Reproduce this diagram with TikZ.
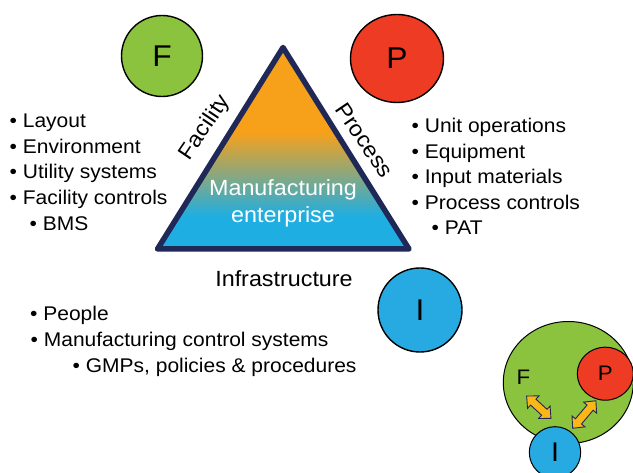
\documentclass[tikz,border=0pt]{standalone}
\usepackage{fontspec}
\setmainfont[FakeStretch=1.06]{Liberation Sans}
\usetikzlibrary{shapes.geometric}
\definecolor{fgreen}{RGB}{139,195,63}
\definecolor{pred}{RGB}{238,59,36}
\definecolor{iblue}{RGB}{39,170,225}
\definecolor{torange}{RGB}{247,161,27}
\definecolor{tblue}{RGB}{30,174,226}
\definecolor{tnavy}{RGB}{32,40,88}
\definecolor{ayellow}{RGB}{251,183,21}
\pgfdeclareverticalshading{trishade}{100bp}{color(0bp)=(tblue); color(33bp)=(tblue); color(54bp)=(torange); color(100bp)=(torange)}
\tikzset{
  lst/.style={anchor=base west, inner sep=0pt, font=\fontsize{19.8}{24}\selectfont},
  big/.style={inner sep=0pt, font=\fontsize{22}{26}\selectfont},
  letter/.style={inner sep=0pt, font=\fontsize{30}{34}\selectfont},
  smallletter/.style={inner sep=0pt, font=\fontsize{21}{24}\selectfont},
  circ/.style={draw=black, line width=1.4pt, inner sep=0pt},
  dblarrowshape/.style={draw=tnavy, line width=0.9pt, fill=ayellow, line join=miter},
}
\begin{document}
\begin{tikzpicture}[x=1pt,y=-1pt]
\useasboundingbox (0,0) rectangle (633,473);
% triangle
\coordinate (ta) at (283,47.5);
\coordinate (tl) at (157.5,249);
\coordinate (tr) at (409,249);
\shade[shading=trishade] (ta) -- (tl) -- (tr) -- cycle;
\draw[tnavy, line width=5.5pt, line join=round] (ta) -- (tl) -- (tr) -- cycle;
\node[big, white, anchor=base] (me1) at (283,195.5) {Manufacturing};
\node[big, white, anchor=base] (me2) at (283,223) {enterprise};
\node[big, anchor=base, rotate=56] (fac) at (210,131) {Facility};
\node[big, anchor=base, rotate=-56] (proc) at (358.5,144.5) {Process};
\node[big, anchor=base] (infra) at (284,286.5) {Infrastructure};
% circles
\node[circ, letter, fill=fgreen, circle, minimum size=81pt] (cf) at (162,56) {F};
\node[circ, letter, fill=pred, ellipse, minimum width=93pt, minimum height=88pt] (cp) at (397,58.5) {P};
\node[circ, letter, fill=iblue, circle, minimum size=84pt] (ci) at (420,310) {I};
% left list
\node[lst] (l1) at (9.5,127.5) {• Layout};
\node[lst] (l2) at (9.5,153.3) {• Environment};
\node[lst] (l3) at (9.5,179) {• Utility systems};
\node[lst] (l4) at (9.5,204.8) {• Facility controls};
\node[lst] (l5) at (29.5,230.5) {• BMS};
% right list
\node[lst] (r1) at (411.5,133) {• Unit operations};
\node[lst] (r2) at (411.5,158.5) {• Equipment};
\node[lst] (r3) at (411.5,184) {• Input materials};
\node[lst] (r4) at (411.5,209.5) {• Process controls};
\node[lst] (r5) at (431.5,235) {• PAT};
% bottom list
\node[lst] (b1) at (30,320.5) {• People};
\node[lst] (b2) at (30.5,346.7) {• Manufacturing control systems};
\node[lst] (b3) at (72.5,373) {• GMPs, policies \& procedures};
% small diagram
\draw[fill=fgreen, line width=1pt] (568.3,382.5) ellipse [x radius=65, y radius=61];
\node[smallletter] (sf) at (523.3,377.3) {F};
\node[draw=black, line width=1pt, fill=pred, ellipse, minimum width=56pt, minimum height=53pt, inner sep=0pt, font=\fontsize{21}{24}\selectfont] (sp) at (605.3,373.7) {\raisebox{-2.5pt}{P}};
\node[draw=black, line width=1pt, fill=iblue, circle, minimum size=51.4pt, inner sep=0pt, font=\fontsize{27}{30}\selectfont] (si) at (555,452.4) {I};
\begin{scope}[shift={(538.8,407.2)}, rotate=-42.5]
\draw[dblarrowshape] (-16.5,0) -- (-7.5,8.5) -- (-7.5,4) -- (7.5,4) -- (7.5,8.5) -- (16.5,0) -- (7.5,-8.5) -- (7.5,-4) -- (-7.5,-4) -- (-7.5,-8.5) -- cycle;
\end{scope}
\begin{scope}[shift={(584.3,414.5)}, rotate=49.8]
\draw[dblarrowshape] (-18,0) -- (-9,8.5) -- (-9,4) -- (9,4) -- (9,8.5) -- (18,0) -- (9,-8.5) -- (9,-4) -- (-9,-4) -- (-9,-8.5) -- cycle;
\end{scope}
\end{tikzpicture}
\end{document}
